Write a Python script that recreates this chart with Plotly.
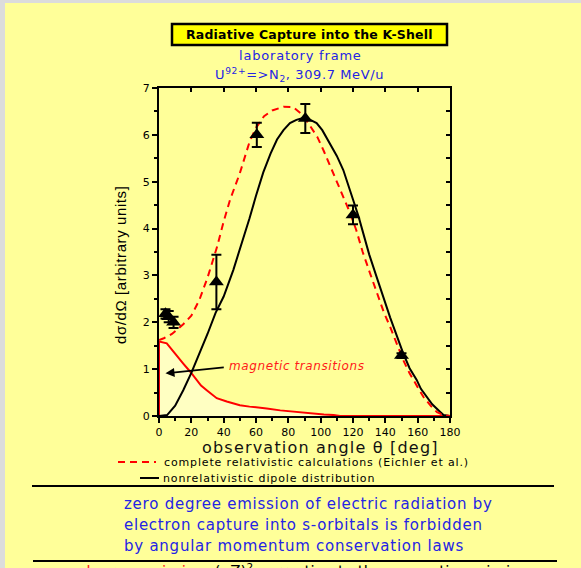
import plotly.graph_objects as go

# complete relativistic calculation (Eichler et al.), red dashed
theta_rel = [0, 3, 8, 12, 15, 20, 25, 30, 33, 36, 40, 44, 50, 56, 60, 65, 70, 77, 83, 88,
             91, 95, 98, 102, 106, 110, 114, 118, 122, 126, 130.5, 135, 139, 143, 147, 151,
             155, 159, 163.5, 168, 172, 176, 180]
sigma_rel = [1.62, 1.66, 1.75, 1.86, 1.96, 2.14, 2.48, 2.95, 3.3, 3.62, 4.15, 4.62, 5.18, 5.85,
             6.15, 6.4, 6.52, 6.6, 6.59, 6.45, 6.32, 6.12, 5.95, 5.65, 5.32, 5.0, 4.68, 4.35,
             3.97, 3.5, 3.05, 2.6, 2.22, 1.9, 1.55, 1.2, 0.91, 0.66, 0.41, 0.22, 0.08, 0.02, 0]

# nonrelativistic dipole distribution, black
theta_dip = [0, 5, 10, 15, 20, 25, 30, 35, 40, 46, 51, 56, 60, 64.5, 69, 73, 77, 81, 85, 89,
             93, 97.5, 101, 105.8, 110, 114, 117, 120, 123.5, 126.4, 130, 134.6, 139, 143, 147,
             151, 155, 159.4, 162, 165.5, 169, 173.8, 176, 180]
sigma_dip = [0, 0.02, 0.22, 0.55, 0.92, 1.32, 1.75, 2.2, 2.55, 3.12, 3.65, 4.22, 4.7, 5.2, 5.6,
             5.9, 6.1, 6.25, 6.32, 6.36, 6.33, 6.25, 6.1, 5.82, 5.55, 5.25, 4.95, 4.62, 4.25,
             3.9, 3.45, 2.97, 2.5, 2.1, 1.72, 1.34, 1.02, 0.77, 0.58, 0.41, 0.25, 0.09, 0.02, 0]

# magnetic transitions, red filled
theta_mag = [0, 0, 4.8, 8.9, 12, 15, 19.2, 23.3, 26, 29.5, 33, 35.7, 41.9, 50, 56, 62.5, 66.6,
             75, 83, 90, 95.4, 102, 108, 112, 180]
sigma_mag = [0, 1.59, 1.55, 1.37, 1.25, 1.12, 0.95, 0.77, 0.65, 0.55, 0.45, 0.38, 0.31, 0.23,
             0.2, 0.18, 0.16, 0.12, 0.09, 0.06, 0.04, 0.03, 0.02, 0, 0]

# measured points
theta_exp = [4, 6, 9, 35.5, 60.5, 90.5, 120, 150]
sigma_exp = [2.18, 2.12, 2.0, 2.86, 6.0, 6.35, 4.29, 1.29]
err_exp = [0.1, 0.12, 0.12, 0.58, 0.26, 0.31, 0.2, 0.05]

W, H = 581, 568
L, R, T, B = 159, 450, 88, 416


def px(x):
    return (x - L) / (R - L)


def py(y):
    return (B - y) / (B - T)


BG = "#FFFF99"
BLUE = "#2424E4"
RED = "#FF1A1A"

fig = go.Figure()

fig.add_trace(go.Scatter(x=theta_mag, y=sigma_mag, mode="lines", fill="tozeroy",
                         fillcolor="#FFFFC2", line=dict(color="#FF0000", width=2),
                         showlegend=False, hoverinfo="skip"))
fig.add_trace(go.Scatter(x=theta_dip, y=sigma_dip, mode="lines",
                         line=dict(color="black", width=2), showlegend=False))
fig.add_trace(go.Scatter(x=theta_rel, y=sigma_rel, mode="lines",
                         line=dict(color="#FF0000", width=2, dash="7px,5px"), showlegend=False))
fig.add_trace(go.Scatter(x=theta_exp, y=sigma_exp, mode="markers",
                         marker=dict(symbol="triangle-up", size=13, color="black"),
                         error_y=dict(type="data", array=err_exp, color="black",
                                      thickness=2, width=5),
                         showlegend=False))
# dummy trace so the mirrored top/right axes are drawn
fig.add_trace(go.Scatter(x=[None], y=[None], xaxis="x2", yaxis="y2",
                         showlegend=False, hoverinfo="skip"))

axis_common = dict(showline=True, linewidth=2, linecolor="black", showgrid=False,
                   zeroline=False, automargin=False, tickcolor="black", tickwidth=1.5)

fig.update_layout(
    width=W, height=H,
    margin=dict(l=L, r=W - R, t=T, b=H - B),
    paper_bgcolor=BG, plot_bgcolor=BG,
    font=dict(family="Liberation Sans, Arial", color="black"),
    xaxis=dict(range=[0, 180], tick0=0, dtick=20, ticks="outside", ticklen=5,
               minor=dict(ticks="outside", ticklen=3, dtick=10, tickcolor="black"),
               tickfont=dict(size=11, family="DejaVu Sans"), **axis_common),
    yaxis=dict(range=[0, 7], tick0=0, dtick=1, ticks="outside", ticklen=5,
               minor=dict(ticks="outside", ticklen=3, dtick=0.5, tickcolor="black"),
               tickfont=dict(size=11, family="DejaVu Sans"), **axis_common),
    xaxis2=dict(range=[0, 180], overlaying="x", side="top", anchor="y", tick0=0, dtick=20,
                ticks="inside", ticklen=4, showticklabels=False, **axis_common),
    yaxis2=dict(range=[0, 7], overlaying="y", side="right", anchor="x", tick0=0, dtick=0.5,
                ticks="inside", ticklen=4, showticklabels=False, **axis_common),
)

shapes = [
    # gray browser strips
    dict(type="rect", xref="paper", yref="paper", x0=px(0), x1=px(5), y0=py(0), y1=py(H),
         fillcolor="#DCDCDC", line=dict(width=0), layer="below"),
    dict(type="rect", xref="paper", yref="paper", x0=px(0), x1=px(W), y0=py(0), y1=py(3),
         fillcolor="#DCDCDC", line=dict(width=0), layer="below"),
    # title box
    dict(type="rect", xref="paper", yref="paper", x0=px(172), x1=px(447), y0=py(24), y1=py(45),
         fillcolor="#FFFF00", line=dict(color="black", width=2.5)),
    # legend samples
    dict(type="line", xref="paper", yref="paper", x0=px(118), x1=px(156), y0=py(462), y1=py(462),
         line=dict(color="#FF0000", width=2, dash="7px,5px")),
    dict(type="line", xref="paper", yref="paper", x0=px(140), x1=px(159), y0=py(478), y1=py(478),
         line=dict(color="black", width=2)),
    # separator lines
    dict(type="line", xref="paper", yref="paper", x0=px(32), x1=px(554), y0=py(486), y1=py(486),
         line=dict(color="black", width=2)),
    dict(type="line", xref="paper", yref="paper", x0=px(33), x1=px(557), y0=py(561), y1=py(561),
         line=dict(color="black", width=2)),
]
fig.update_layout(shapes=shapes)


def note(text, x, y, size, color="black", family="DejaVu Sans", xanchor="center",
         spacing=0, **kw):
    if spacing:
        text = f"<span style='letter-spacing:{spacing}px'>{text}</span>"
    fig.add_annotation(text=text, xref="paper", yref="paper", x=px(x), y=py(y),
                       xanchor=xanchor, yanchor="middle", showarrow=False,
                       font=dict(size=size, color=color, family=family), **kw)


note("<b>Radiative Capture into the K-Shell</b>", 309.5, 34.5, 12.5, spacing=0.2)
note("laboratory frame", 300, 56, 13, color=BLUE, spacing=0.8)
note("U<sup>92+</sup>=>N<sub>2</sub>, 309.7 MeV/u", 299, 75, 13, color=BLUE, spacing=0.6)
note("observation angle θ [deg]", 320, 447.5, 16, color="#111111", spacing=1.2)
note("dσ/dΩ [arbitrary units]", 120, 265, 15, family="Liberation Sans, Arial",
     textangle=-90, spacing=0.6)
note("complete relativistic calculations (Eichler et al.)", 162, 462.5, 11, xanchor="left",
     spacing=0.85)
note("nonrelativistic dipole distribution", 161, 478, 11, xanchor="left", spacing=0.9)
note("zero degree emission of electric radiation by", 122, 504, 15, color=BLUE,
     xanchor="left", spacing=0.75)
note("electron capture into s-orbitals is forbidden", 122, 525, 15, color=BLUE,
     xanchor="left", spacing=0.75)
note("by angular momentum conservation laws", 122, 546, 15, color=BLUE, xanchor="left",
     spacing=0.75)
note("<span style='color:#FF1A1A'>zero degree emission</span>: (αZ)<sup>2</sup> correction to the magnetic emission",
     42, 571, 15, xanchor="left")

# magnetic transitions label + arrow
fig.add_annotation(text="<i><span style='letter-spacing:0.6px'>magnetic transitions</span></i>",
                   x=42, y=1.07, xref="x", yref="y",
                   xanchor="left", yanchor="middle", showarrow=False,
                   font=dict(size=12, color=RED, family="DejaVu Sans"))
fig.add_annotation(text="", x=4, y=0.91, ax=41, ay=1.04, xref="x", yref="y",
                   axref="x", ayref="y", showarrow=True, arrowhead=2, arrowsize=1,
                   arrowwidth=1.8, arrowcolor="black")

fig.write_html("out.html", config={"displayModeBar": False},
               post_script="document.body.style.margin='0px';")
